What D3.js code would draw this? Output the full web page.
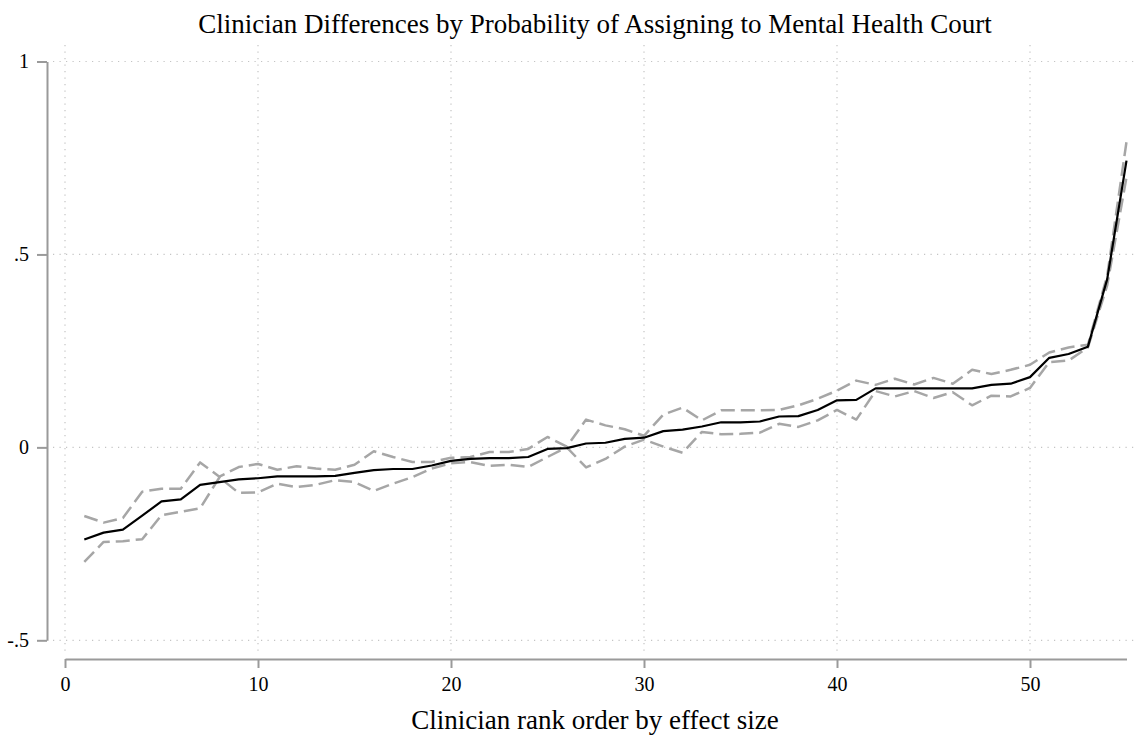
<!DOCTYPE html>
<html>
<head>
<meta charset="utf-8">
<script src="https://cdn.jsdelivr.net/npm/d3@7"></script>
<style>
  html, body { margin: 0; padding: 0; background: #fff; }
  svg { display: block; font-family: "Liberation Serif", "Times New Roman", serif; }
</style>
</head>
<body>
<svg id="chart" width="1134" height="742"></svg>
<script>
// Clinician rank (1..55) and estimated effects with the two comparison bounds
const ranks = d3.range(1, 56);

const estimate = [
  -0.239, -0.221, -0.213, -0.177, -0.140, -0.135, -0.097, -0.090, -0.083, -0.080,
  -0.075, -0.075, -0.075, -0.074, -0.066, -0.059, -0.056, -0.056, -0.047, -0.035,
  -0.030, -0.028, -0.028, -0.025, -0.004, -0.002, 0.010, 0.012, 0.022, 0.025,
  0.042, 0.046, 0.054, 0.065, 0.065, 0.067, 0.080, 0.081, 0.097, 0.122,
  0.123, 0.153, 0.153, 0.153, 0.153, 0.153, 0.153, 0.162, 0.165, 0.182,
  0.232, 0.242, 0.261, 0.436, 0.743
];

const upperBound = [
  -0.178, -0.195, -0.183, -0.115, -0.107, -0.107, -0.039, -0.076, -0.051, -0.043,
  -0.058, -0.049, -0.055, -0.058, -0.045, -0.010, -0.025, -0.038, -0.038, -0.027,
  -0.025, -0.012, -0.012, -0.004, 0.027, 0.002, 0.072, 0.057, 0.047, 0.030,
  0.085, 0.103, 0.070, 0.096, 0.096, 0.096, 0.097, 0.109, 0.126, 0.147,
  0.173, 0.162, 0.178, 0.163, 0.180, 0.165, 0.201, 0.190, 0.201, 0.214,
  0.246, 0.259, 0.266, 0.445, 0.792
];

const lowerBound = [
  -0.297, -0.245, -0.243, -0.238, -0.176, -0.167, -0.158, -0.078, -0.118, -0.117,
  -0.094, -0.103, -0.097, -0.085, -0.090, -0.113, -0.094, -0.077, -0.055, -0.041,
  -0.038, -0.048, -0.045, -0.051, -0.025, 0.000, -0.052, -0.030, 0.002, 0.020,
  0.002, -0.014, 0.040, 0.034, 0.035, 0.038, 0.061, 0.053, 0.070, 0.097,
  0.072, 0.146, 0.132, 0.146, 0.128, 0.143, 0.109, 0.134, 0.132, 0.154,
  0.221, 0.225, 0.259, 0.420, 0.700
];

const xTicks = [0, 10, 20, 30, 40, 50];
const yTicks = [-0.5, 0, 0.5, 1];
const yTickLabels = ["-.5", "0", ".5", "1"];

const titleText = "Clinician Differences by Probability of Assigning to Mental Health Court";
const xTitleText = "Clinician rank order by effect size";

const svg = d3.select("#chart");

const x = d3.scaleLinear().domain([0, 55]).range([65, 1126.5]);
const y = d3.scaleLinear().domain([-0.5, 1]).range([640.3, 61.5]);

// plot region bounds for the grid
const region = { left: 53, right: 1134, top: 45, bottom: 654 };

// dotted grid
const grid = svg.append("g").attr("class", "grid")
  .attr("stroke", "#c4c4c4").attr("stroke-width", 1.2)
  .attr("stroke-dasharray", "1.2,5.3");
grid.selectAll("line.v").data(xTicks).join("line")
  .attr("class", "v")
  .attr("x1", d => x(d)).attr("x2", d => x(d))
  .attr("y1", region.top).attr("y2", region.bottom);
grid.selectAll("line.h").data(yTicks).join("line")
  .attr("class", "h")
  .attr("x1", region.left).attr("x2", region.right)
  .attr("y1", d => y(d)).attr("y2", d => y(d));

// axes
const axisColor = "#9a9a9a";

const xAxis = svg.append("g")
  .attr("transform", "translate(0,659)")
  .call(d3.axisBottom(x).tickValues(xTicks).tickSize(9).tickSizeOuter(0).tickPadding(9));

const yAxis = svg.append("g")
  .attr("transform", "translate(47,0)")
  .call(d3.axisLeft(y).tickValues(yTicks).tickSize(10).tickSizeOuter(0).tickPadding(8)
    .tickFormat((d, i) => yTickLabels[i]));

[xAxis, yAxis].forEach(g => {
  g.select(".domain").attr("stroke", axisColor).attr("stroke-width", 2);
  g.selectAll(".tick line").attr("stroke", axisColor).attr("stroke-width", 2);
  g.selectAll(".tick text")
    .attr("fill", "#000")
    .attr("font-family", "Liberation Serif, Times New Roman, serif")
    .attr("font-size", 20);
});

// series lines
const line = d3.line()
  .x((d, i) => x(ranks[i]))
  .y(d => y(d));

const lines = svg.append("g").attr("fill", "none").attr("stroke-linejoin", "round");

lines.append("path")
  .datum(upperBound)
  .attr("d", line)
  .attr("stroke", "#a6a6a6")
  .attr("stroke-width", 2.5)
  .attr("stroke-dasharray", "14,6");

lines.append("path")
  .datum(lowerBound)
  .attr("d", line)
  .attr("stroke", "#a6a6a6")
  .attr("stroke-width", 2.5)
  .attr("stroke-dasharray", "14,6");

lines.append("path")
  .datum(estimate)
  .attr("d", line)
  .attr("stroke", "#000")
  .attr("stroke-width", 2.2);

// titles
svg.append("text")
  .attr("x", 595).attr("y", 33)
  .attr("text-anchor", "middle")
  .attr("font-size", 27)
  .attr("fill", "#000")
  .text(titleText);

svg.append("text")
  .attr("x", 595).attr("y", 729)
  .attr("text-anchor", "middle")
  .attr("font-size", 27)
  .attr("fill", "#000")
  .text(xTitleText);
</script>
</body>
</html>
